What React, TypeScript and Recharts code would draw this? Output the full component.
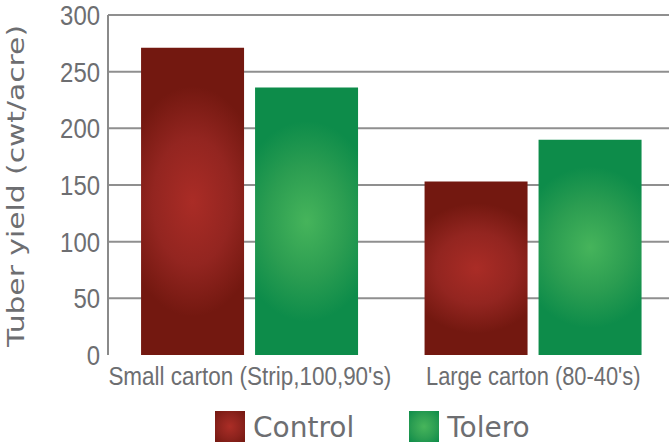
import React from 'react';
import { BarChart, Bar, XAxis, YAxis, CartesianGrid, Legend } from 'recharts';

const categories = ["Small carton (Strip,100,90's)", "Large carton (80-40's)"];
const controlValues = [271, 153];
const toleroValues = [236, 190];
const yTicks = [0, 50, 100, 150, 200, 250, 300];
const gridValues = [50, 100, 150, 200, 250, 300];
const seriesNames = ['Control', 'Tolero'];

const data = categories.map((name, i) => ({
  name,
  Control: controlValues[i],
  Tolero: toleroValues[i],
}));

const TEXT = '#6d6e71';
const FONT = "'DejaVu Sans', Verdana, sans-serif";
const TICKFONT = "'Liberation Sans', Arial, sans-serif";

const swatchBg: Record<string, string> = {
  Control: 'radial-gradient(ellipse at center, #ab2d26 0%, #8d231d 55%, #731810 100%)',
  Tolero: 'radial-gradient(ellipse at center, #47b55b 0%, #2c9e52 55%, #0d8c4a 100%)',
};

const XTick = (props: any) => {
  const { x, y, payload } = props;
  const s = String(payload.value);
  return (
    <text
      x={x}
      y={y + 22}
      textAnchor="middle"
      fill={TEXT}
      fontSize={25}
      fontFamily={TICKFONT}
      textLength={s.length * 9.75}
      lengthAdjust="spacingAndGlyphs"
    >
      {s}
    </text>
  );
};

const YTick = (props: any) => {
  const { x, y, payload } = props;
  const s = String(payload.value);
  return (
    <text
      x={x}
      y={y}
      dy="0.36em"
      textAnchor="end"
      fill={TEXT}
      fontSize={28}
      fontFamily={TICKFONT}
      textLength={s.length * 13.3}
      lengthAdjust="spacingAndGlyphs"
    >
      {s}
    </text>
  );
};

const LegendContent = () => (
  <div style={{ display: 'flex', alignItems: 'center', height: 32 }}>
    {seriesNames.map((n, i) => (
      <div key={n} style={{ display: 'flex', alignItems: 'center', marginRight: i === 0 ? 55 : 0 }}>
        <div style={{ width: 30, height: 31, background: swatchBg[n], marginRight: 8 }} />
        <span style={{ fontFamily: FONT, fontSize: 28, color: TEXT, lineHeight: '31px', paddingTop: 2 }}>{n}</span>
      </div>
    ))}
  </div>
);

const YLabel = (props: any) => {
  const vb = props.viewBox || { x: 0, y: 15, height: 340 };
  const cx = 24;
  const cy = vb.y + vb.height / 2 + 1;
  return (
    <text
      x={cx}
      y={cy}
      transform={`rotate(-90 ${cx} ${cy})`}
      textAnchor="middle"
      fill={TEXT}
      fontSize={23}
      textLength={322}
      lengthAdjust="spacingAndGlyphs"
      fontFamily={FONT}
    >
      Tuber yield (cwt/acre)
    </text>
  );
};

export default function App() {
  return (
    <div style={{ position: 'absolute', left: 0, top: 0, width: 669, height: 442, overflow: 'hidden', background: '#fff' }}>
      <BarChart
        width={669}
        height={442}
        data={data}
        margin={{ top: 15, right: -6, left: 0, bottom: 0 }}
        barCategoryGap="11.66%"
        barGap={11}
      >
        <defs>
          <radialGradient id="redG" cx="0.5" cy="0.5" r="0.5" gradientTransform="translate(0.5 0.5) scale(1.4 0.75) translate(-0.5 -0.5)">
            <stop offset="0" stopColor="#aa2c26" />
            <stop offset="0.55" stopColor="#932520" />
            <stop offset="1" stopColor="#731810" />
          </radialGradient>
          <radialGradient id="greenG" cx="0.5" cy="0.5" r="0.5" gradientTransform="translate(0.5 0.5) scale(1.4 0.75) translate(-0.5 -0.5)">
            <stop offset="0" stopColor="#46b45b" />
            <stop offset="0.55" stopColor="#2b9d51" />
            <stop offset="1" stopColor="#0d8c4a" />
          </radialGradient>
        </defs>
        <CartesianGrid
          vertical={false}
          stroke="#8f8f8f"
          strokeWidth={2}
          horizontalCoordinatesGenerator={(args: any) => {
            const ya = args.yAxis;
            if (ya && typeof ya.scale === 'function') return gridValues.map((v) => ya.scale(v));
            const off = args.offset;
            return gridValues.map((v) => off.top + off.height * (1 - v / 300));
          }}
        />
        <XAxis
          dataKey="name"
          height={55}
          axisLine={false}
          tickLine={false}
          tick={<XTick />}
          interval={0}
        />
        <YAxis
          width={108}
          domain={[0, 300]}
          ticks={yTicks}
          interval={0}
          tickLine={false}
          axisLine={{ stroke: '#8a8a8a', strokeWidth: 2 }}
          tick={<YTick />}
          label={<YLabel />}
        />
        <Legend verticalAlign="bottom" content={<LegendContent />} wrapperStyle={{ left: 215, bottom: 0, width: 'auto' }} />
        <Bar dataKey="Control" fill="url(#redG)" isAnimationActive={false} />
        <Bar dataKey="Tolero" fill="url(#greenG)" isAnimationActive={false} />
      </BarChart>
    </div>
  );
}
